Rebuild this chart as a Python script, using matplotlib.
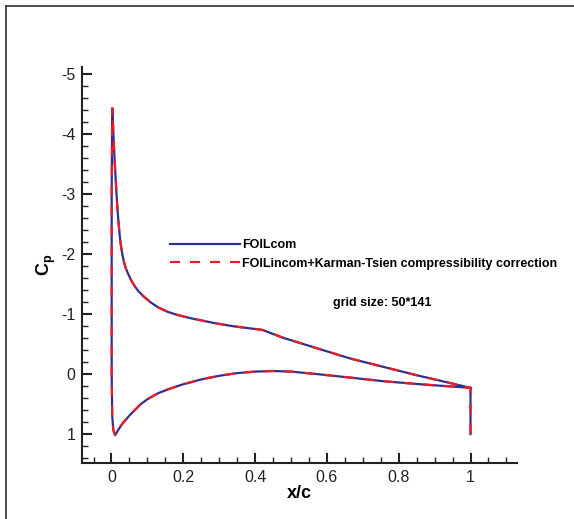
"""Cp distribution: FOILcom vs FOILincom + Karman-Tsien correction."""
import matplotlib
matplotlib.use('Agg')

import matplotlib.pyplot as plt
from matplotlib.lines import Line2D
from matplotlib.ticker import MultipleLocator, FuncFormatter

plt.rcParams['font.family'] = ['Liberation Sans', 'DejaVu Sans']
plt.rcParams['mathtext.default'] = 'regular'

# loop: trailing edge -> upper surface -> leading edge -> lower surface -> trailing edge
x_upper = [
    1.0, 1.0, 0.85, 0.75, 0.664, 0.55, 0.48, 0.44, 0.42, 0.38, 0.34, 0.29,
    0.22, 0.18, 0.155, 0.13, 0.11, 0.09, 0.075, 0.065, 0.055, 0.047, 0.04,
    0.035, 0.03, 0.026, 0.023, 0.02, 0.0175, 0.015, 0.0125, 0.01, 0.008,
    0.006, 0.004, 0.002,
]
cp_upper = [
    1.0, 0.23, 0.02, -0.13, -0.26, -0.47, -0.6, -0.69, -0.735, -0.765, -0.795, -0.845,
    -0.93, -0.99, -1.04, -1.11, -1.19, -1.29, -1.38, -1.46, -1.56, -1.66, -1.76,
    -1.86, -2.0, -2.15, -2.3, -2.5, -2.68, -2.9, -3.15, -3.42, -3.65,
    -3.9, -4.2, -4.43,
]
x_lower = [
    0.0005, 0.0005, 0.002, 0.005, 0.01, 0.015, 0.02, 0.03, 0.04, 0.05, 0.065,
    0.08, 0.1, 0.13, 0.16, 0.2, 0.25, 0.3, 0.35, 0.4, 0.45, 0.5, 0.57, 0.65,
    0.757, 0.88, 1.0,
]
cp_lower = [
    -3.0, 0.0, 0.7, 0.93, 1.02, 0.97, 0.92, 0.83, 0.76, 0.69, 0.6,
    0.51, 0.42, 0.32, 0.25, 0.17, 0.09, 0.03, -0.015, -0.04, -0.05, -0.04, 0.0, 0.05,
    0.12, 0.18, 0.23,
]

x_com = x_upper + x_lower
cp_com = cp_upper + cp_lower
x_incom_kt = list(x_com)
cp_incom_kt = list(cp_com)

label_com = 'FOILcom'
label_kt = 'FOILincom+Karman-Tsien compressibility correction'
note = 'grid size: 50*141'

###

fig = plt.figure(figsize=(5.74, 5.19), dpi=100)
ax = fig.add_axes([0.1434, 0.1079, 0.7568, 0.7631])

ax.plot(x_com, cp_com, color='#2e3192', lw=1.6, label=label_com, zorder=3)
ax.plot(x_incom_kt, cp_incom_kt, color='#ed1c24', lw=1.6,
        dashes=(4.5, 4.5), label=label_kt, zorder=4)

ax.set_xlim(-0.0813, 1.1287)
ax.set_ylim(1.483, -5.117)

ax.xaxis.set_major_locator(MultipleLocator(0.2))
ax.xaxis.set_minor_locator(MultipleLocator(0.05))
ax.yaxis.set_major_locator(MultipleLocator(1))
ax.yaxis.set_minor_locator(MultipleLocator(0.2))
ax.xaxis.set_major_formatter(FuncFormatter(lambda v, p: '%g' % round(v, 2)))
ax.yaxis.set_major_formatter(FuncFormatter(lambda v, p: '%g' % round(v, 2)))

for s in ('top', 'right'):
    ax.spines[s].set_visible(False)
for s in ('left', 'bottom'):
    ax.spines[s].set_linewidth(1.5)
    ax.spines[s].set_color('#222222')

ax.tick_params(which='major', direction='in', length=7, width=1.5,
               labelsize=11.5, pad=5, colors='#222222')
ax.tick_params(which='minor', direction='in', length=4, width=1.0,
               colors='#222222')

ax.set_xlabel('x/c', fontsize=13, fontweight='bold', labelpad=0)
fig.text(46 / 574, 1 - 265 / 519, r'C$_{p}$', rotation=90, ha='center',
         va='center', fontsize=13, fontweight='bold')

ax.legend(
    loc='upper left',
    bbox_to_anchor=(0.202, 0.565),
    frameon=False,
    borderpad=0,
    borderaxespad=0,
    handlelength=5.6,
    handletextpad=0.15,
    labelspacing=0.53,
    prop={'size': 9, 'weight': 'bold'},
)

ax.text(0.69, 0.403, note, transform=ax.transAxes, ha='center', va='center',
        fontsize=9, fontweight='bold')

# outer frame (left and top edges)
fig.add_artist(Line2D([0.0113, 0.0113], [0.0, 0.9875], transform=fig.transFigure,
                      color='#333333', lw=1.2))
fig.add_artist(Line2D([0.0113, 1.0], [0.9875, 0.9875], transform=fig.transFigure,
                      color='#333333', lw=1.2))

fig.savefig('out.png', dpi=100)
plt.close(fig)
